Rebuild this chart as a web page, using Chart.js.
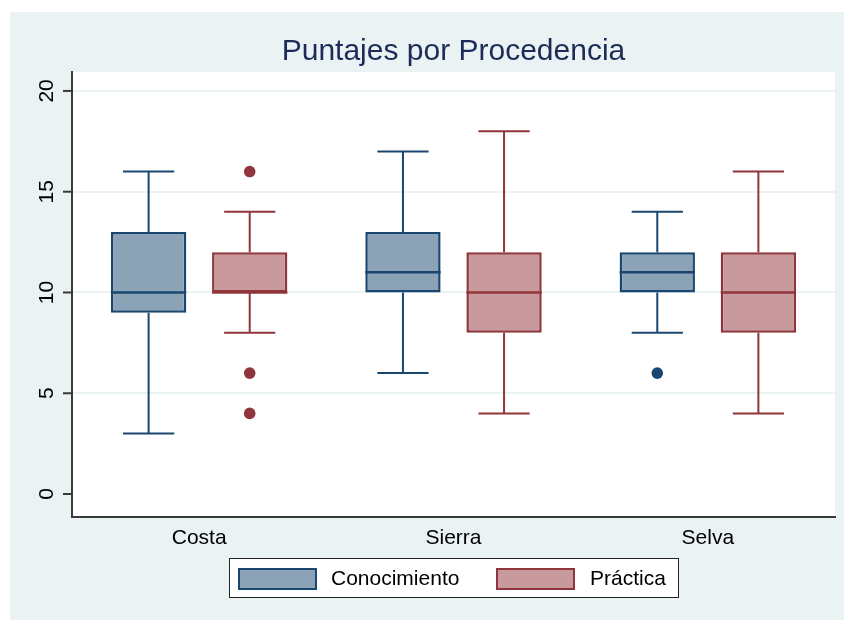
<!DOCTYPE html>
<html>
<head>
<meta charset="utf-8">
<script src="https://cdn.jsdelivr.net/npm/chart.js@4/dist/chart.umd.min.js"></script>
<style>
  html, body { margin: 0; padding: 0; background: #ffffff; }
  #wrap { width: 844px; height: 620px; }
</style>
</head>
<body>
<div id="wrap"><canvas id="c" width="844" height="620"></canvas></div>
<script>
// Categories and box-plot statistics (min whisker, Q1, median, Q3, max whisker)
const categories = ['Costa', 'Sierra', 'Selva'];
const seriesNames = ['Conocimiento', 'Práctica'];

const conMin = [3, 6, 8];
const conQ1  = [9, 10, 10];
const conMed = [10, 11, 11];
const conQ3  = [13, 13, 12];
const conMax = [16, 17, 14];
const conOutliers = [[], [], [6]];

const pracMin = [8, 4, 4];
const pracQ1  = [10, 8, 8];
const pracMed = [10, 10, 10];
const pracQ3  = [12, 12, 12];
const pracMax = [14, 18, 16];
const pracOutliers = [[16, 6, 4], [], []];

const yTicks = [0, 5, 10, 15, 20];
const titleText = 'Puntajes por Procedencia';

const NAVY = '#1a476f', NAVY_FILL = '#8ca3b7';
const MAROON = '#90353b', MAROON_FILL = '#c89a9d';
const PANEL = '#eaf2f3';
const FONT = '"Liberation Sans", Arial, Helvetica, sans-serif';

const stats = [
  { min: conMin, med: conMed, max: conMax, out: conOutliers, color: NAVY },
  { min: pracMin, med: pracMed, max: pracMax, out: pracOutliers, color: MAROON }
];

const boxPlot = {
  id: 'boxPlot',
  beforeDraw(chart) {
    const { ctx, chartArea: a } = chart;
    ctx.save();
    ctx.fillStyle = '#ffffff';
    ctx.fillRect(0, 0, chart.width, chart.height);
    ctx.fillStyle = PANEL;
    ctx.fillRect(10, 12, chart.width - 10, chart.height - 12);
    ctx.fillStyle = '#ffffff';
    ctx.fillRect(a.left, a.top, a.right - a.left, a.bottom - a.top);
    ctx.restore();
  },
  beforeDatasetsDraw(chart) {
    // whiskers and caps, drawn under the boxes
    const { ctx } = chart;
    const y = chart.scales.y;
    ctx.save();
    ctx.lineWidth = 2;
    stats.forEach((s, di) => {
      const meta = chart.getDatasetMeta(di);
      meta.data.forEach((bar, i) => {
        const cx = bar.x;
        const cap = bar.width * 0.68 / 2;
        const ds = chart.data.datasets[di].data[i];
        ctx.strokeStyle = s.color;
        ctx.beginPath();
        ctx.moveTo(cx, y.getPixelForValue(ds[1]));
        ctx.lineTo(cx, y.getPixelForValue(s.max[i]));
        ctx.moveTo(cx, y.getPixelForValue(ds[0]));
        ctx.lineTo(cx, y.getPixelForValue(s.min[i]));
        ctx.moveTo(cx - cap, y.getPixelForValue(s.max[i]));
        ctx.lineTo(cx + cap, y.getPixelForValue(s.max[i]));
        ctx.moveTo(cx - cap, y.getPixelForValue(s.min[i]));
        ctx.lineTo(cx + cap, y.getPixelForValue(s.min[i]));
        ctx.stroke();
      });
    });
    ctx.restore();
  },
  afterDatasetsDraw(chart) {
    // medians and outside values
    const { ctx } = chart;
    const y = chart.scales.y;
    ctx.save();
    stats.forEach((s, di) => {
      const meta = chart.getDatasetMeta(di);
      meta.data.forEach((bar, i) => {
        const cx = bar.x, hw = bar.width / 2;
        const my = y.getPixelForValue(s.med[i]);
        ctx.strokeStyle = s.color;
        ctx.lineWidth = 2.5;
        ctx.beginPath();
        ctx.moveTo(cx - hw, my);
        ctx.lineTo(cx + hw, my);
        ctx.stroke();
        ctx.fillStyle = s.color;
        s.out[i].forEach(v => {
          ctx.beginPath();
          ctx.arc(cx, y.getPixelForValue(v), 5.8, 0, Math.PI * 2);
          ctx.fill();
        });
      });
    });
    ctx.restore();
  },
  afterDraw(chart) {
    const { ctx, chartArea: a } = chart;
    const x = chart.scales.x, y = chart.scales.y;
    const midX = (a.left + a.right) / 2;
    ctx.save();
    // y ticks and rotated labels
    ctx.strokeStyle = '#3a3a3a';
    ctx.lineWidth = 2;
    ctx.fillStyle = '#000000';
    ctx.font = '21px ' + FONT;
    ctx.textAlign = 'center';
    yTicks.forEach(v => {
      const py = y.getPixelForValue(v);
      ctx.beginPath();
      ctx.moveTo(a.left - 9, py);
      ctx.lineTo(a.left, py);
      ctx.stroke();
      ctx.save();
      ctx.translate(a.left - 19, py);
      ctx.rotate(-Math.PI / 2);
      ctx.textBaseline = 'alphabetic';
      ctx.fillText(String(v), 0, 0);
      ctx.restore();
    });
    // category labels
    ctx.textBaseline = 'middle';
    ctx.font = '21px ' + FONT;
    categories.forEach((c, i) => {
      ctx.fillText(c, x.getPixelForValue(i), a.bottom + 21);
    });
    // title
    ctx.fillStyle = '#1e2b58';
    ctx.font = '30px ' + FONT;
    ctx.textBaseline = 'alphabetic';
    ctx.fillText(titleText, midX, 60);
    // legend
    const lw = 449, lx = Math.round(midX - lw / 2) + 0.5;
    ctx.fillStyle = '#ffffff';
    ctx.fillRect(lx, 558.5, lw, 39);
    ctx.strokeStyle = '#222222';
    ctx.lineWidth = 1;
    ctx.strokeRect(lx, 558.5, lw, 39);
    const leg = [
      { x: 239, tx: 331, fill: NAVY_FILL, stroke: NAVY },
      { x: 497, tx: 590, fill: MAROON_FILL, stroke: MAROON }
    ];
    ctx.textBaseline = 'middle';
    leg.forEach((l, i) => {
      ctx.fillStyle = l.fill;
      ctx.fillRect(l.x, 569, 77, 20);
      ctx.strokeStyle = l.stroke;
      ctx.lineWidth = 2;
      ctx.strokeRect(l.x, 569, 77, 20);
      ctx.fillStyle = '#000000';
      ctx.font = '21px ' + FONT;
      ctx.textAlign = 'left';
      ctx.fillText(seriesNames[i], l.tx, 579);
    });
    ctx.restore();
  }
};

new Chart(document.getElementById('c'), {
  type: 'bar',
  data: {
    labels: categories,
    datasets: [
      {
        label: seriesNames[0],
        data: categories.map((_, i) => [conQ1[i], conQ3[i]]),
        backgroundColor: NAVY_FILL,
        borderColor: NAVY,
        borderWidth: 2.5,
        borderSkipped: false
      },
      {
        label: seriesNames[1],
        data: categories.map((_, i) => [pracQ1[i], pracQ3[i]]),
        backgroundColor: MAROON_FILL,
        borderColor: MAROON,
        borderWidth: 2.5,
        borderSkipped: false
      }
    ]
  },
  options: {
    responsive: false,
    animation: false,
    categoryPercentage: 0.795,
    barPercentage: 0.745,
    layout: { padding: { left: 72, top: 72, right: 9, bottom: 103 } },
    plugins: { legend: { display: false }, tooltip: { enabled: false }, title: { display: false } },
    scales: {
      x: {
        type: 'category',
        offset: true,
        grid: { display: false, drawTicks: false },
        border: { display: true, color: '#3a3a3a', width: 2 },
        ticks: { display: false },
        afterFit(s) { s.height = 0; }
      },
      y: {
        min: -1.14,
        max: 20.94,
        afterBuildTicks(s) { s.ticks = yTicks.map(v => ({ value: v })); },
        grid: {
          color: c => (c.tick && c.tick.value === 0) ? 'rgba(0,0,0,0)' : PANEL,
          lineWidth: 2,
          drawTicks: false
        },
        border: { display: true, color: '#3a3a3a', width: 2 },
        ticks: { display: false },
        afterFit(s) { s.width = 0; }
      }
    }
  },
  plugins: [boxPlot]
});
</script>
</body>
</html>
